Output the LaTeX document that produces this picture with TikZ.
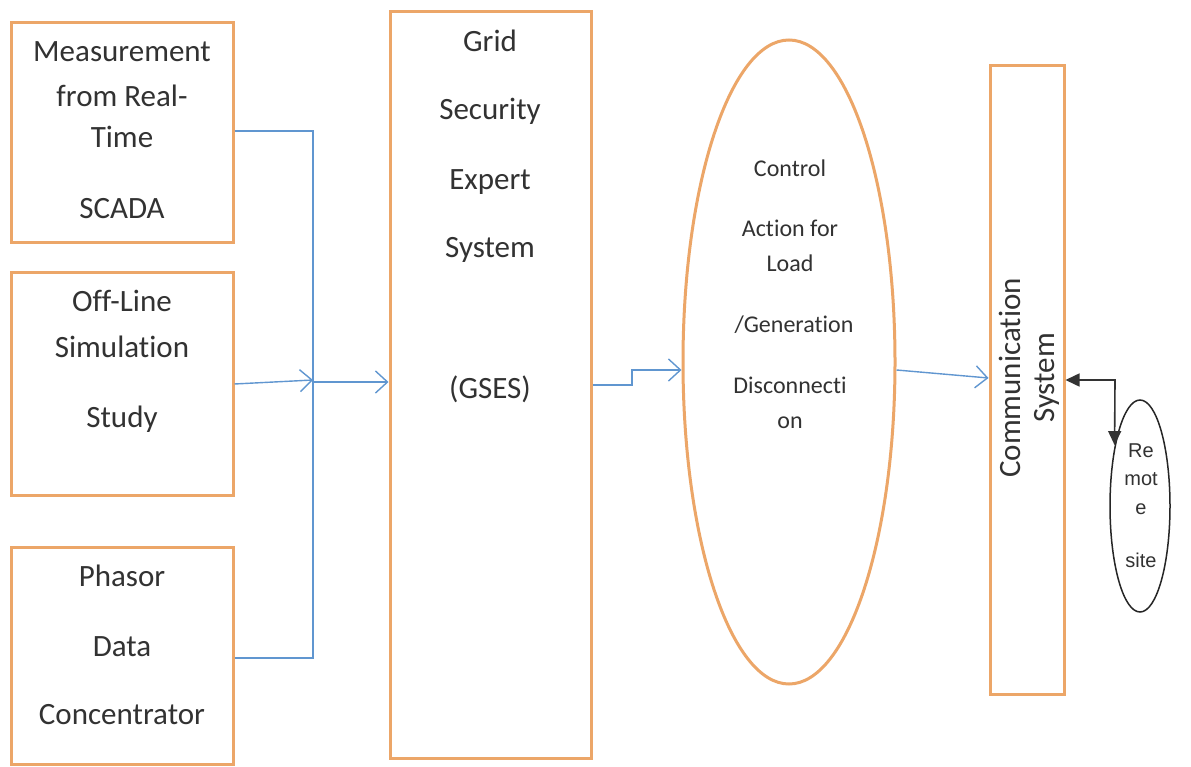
\documentclass[tikz,border=0pt]{standalone}
\usepackage{fontspec}
\setmainfont{Carlito}[Ligatures=NoCommon]
\newfontfamily\arialfont{Liberation Sans}
\usetikzlibrary{arrows.meta,shapes.geometric}
\definecolor{boxorange}{RGB}{236,166,104}
\definecolor{lineblue}{RGB}{96,150,208}
\definecolor{txt}{RGB}{50,50,50}
\begin{document}
\begin{tikzpicture}[x=1pt,y=-1pt,
  box/.style={draw=boxorange, line width=3pt, inner sep=0pt},
  lbl/.style={text=txt, font=\fontsize{31}{37}\selectfont, inner sep=0pt, text height=21pt, text depth=7pt, yshift=-3pt},
  slbl/.style={text=txt, font=\fontsize{24}{29}\selectfont, inner sep=0pt, text height=16pt, text depth=5pt, yshift=-2pt},
  rlbl/.style={text=txt, font=\arialfont\fontsize{20}{24}\selectfont, inner sep=0pt, text height=14pt, text depth=4pt, yshift=-2pt},
  conn/.style={draw=lineblue, line width=1.4pt},
  tip/.style={-{Straight Barb[length=12pt,width=22pt,line width=1.4pt]}},
  blk/.style={draw=black!80, line width=1.6pt, {Triangle[length=14pt,width=13pt]}-{Triangle[length=14pt,width=13pt]}}
]
\useasboundingbox (0,0) rectangle (1191,767);
\fill[white] (0,0) rectangle (1191,767);

% boxes
\node[box, minimum width=222pt, minimum height=220pt] (b1) at (122,133) {};
\node[box, minimum width=222pt, minimum height=222pt] (b2) at (122,384) {};
\node[box, minimum width=222pt, minimum height=217pt] (b3) at (122,655.5) {};
\node[box, minimum width=201pt, minimum height=746pt] (g) at (490.5,385) {};
\node[box, ellipse, minimum width=212pt, minimum height=644pt] (e) at (789,362) {};
\node[box, minimum width=74pt, minimum height=628pt] (c) at (1027,380) {};
\node[draw=black!85, line width=1.5pt, ellipse, minimum width=60pt, minimum height=212pt, inner sep=0pt] (rs) at (1140,506) {};

% texts
\node[lbl] (t1a) at (122,52) {Measurement};
\node[lbl] (t1b) at (122,97) {from Real-};
\node[lbl] (t1c) at (122,138) {Time};
\node[lbl] (t1d) at (122,209) {SCADA};
\node[lbl] (t2a) at (122,302) {Off-Line};
\node[lbl] (t2b) at (122,347) {Simulation};
\node[lbl] (t2c) at (122,417) {Study};
\node[lbl] (t3a) at (122,576) {Phasor};
\node[lbl] (t3b) at (122,646) {Data};
\node[lbl] (t3c) at (122,714) {Concentrator};
\node[lbl] (tga) at (490,42) {Grid};
\node[lbl] (tgb) at (490,110) {Security};
\node[lbl] (tgc) at (490,180) {Expert};
\node[lbl] (tgd) at (490,248) {System};
\node[lbl] (tge) at (490,388) {(GSES)};
\node[slbl] (tea) at (790,169) {Control};
\node[slbl] (teb) at (790,229) {Action for};
\node[slbl] (tec) at (790,264) {Load};
\node[slbl] (ted) at (794,325) {/Generation};
\node[slbl] (tee) at (790,386) {Disconnecti};
\node[slbl] (tef) at (790,421) {on};
\node[text=txt, font=\fontsize{31}{34}\selectfont, rotate=90, align=center, inner sep=0pt] (tc) at (1029,378) {Communication\\System};
\node[rlbl] (tra) at (1141,450) {Re};
\node[rlbl] (trb) at (1141,478) {mot};
\node[rlbl] (trc) at (1141,507) {e};
\node[rlbl] (trd) at (1141,560) {site};

% connectors
\coordinate (j) at (313,380);
\coordinate (k1) at (632,385);
\coordinate (k2) at (632,370);
\coordinate (rt) at (1115,380);
\draw[conn] (b1.east |- 0,131) -| (j);
\draw[conn] (b3.east |- 0,658) -| (j);
\draw[conn, tip] (b2.east) -- (j);
\draw[conn, tip] ([yshift=-2pt]j) -- ([yshift=-2pt]j -| g.west);
\draw[conn, tip] (g.east) -- (k1) -- (k2) -- (k2 -| e.west);
\draw[conn, tip] ([yshift=-8pt]e.east) -- ([yshift=2pt]c.west);
\draw[blk, shorten >=1pt] (c.east) -- (rt) -- (rs.113);
\end{tikzpicture}
\end{document}
